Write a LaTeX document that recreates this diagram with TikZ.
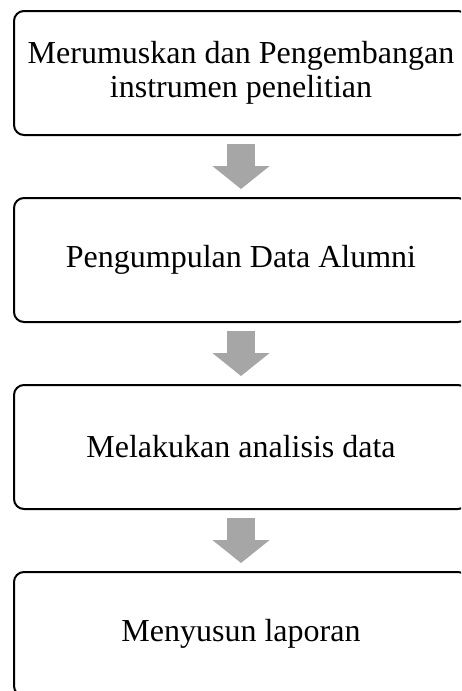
\documentclass[tikz,border=0pt]{standalone}
\usepackage{fontspec}
\setmainfont{Liberation Serif}
\usepackage{tikz}
\usetikzlibrary{arrows.meta,positioning}

\definecolor{arrowgray}{HTML}{A6A6A6}

\begin{document}
\begin{tikzpicture}[x=1pt,y=1pt,node distance=187pt,on grid,
  stepbox/.style={draw,line width=2pt,rounded corners=10pt,
    minimum width=454pt,minimum height=124pt,align=center,
    font=\fontsize{32}{34}\selectfont},
  blockarrow/.style={draw=arrowgray,line width=28pt,
    shorten <=8pt,shorten >=8pt,
    -{Triangle[width=56pt,length=23pt,fill=arrowgray]}}]
  \clip (0,0) rectangle (461,-691);
  \node[stepbox] (s1) at (241,-73) {Merumuskan dan Pengembangan\\instrumen penelitian};
  \node[stepbox] (s2) [below = of s1] {Pengumpulan Data Alumni};
  \node[stepbox] (s3) [below = of s2] {Melakukan analisis data};
  \node[stepbox] (s4) [below = of s3] {Menyusun laporan};
  \draw[blockarrow] (s1.south) -- (s2.north);
  \draw[blockarrow] (s2.south) -- (s3.north);
  \draw[blockarrow] (s3.south) -- (s4.north);
\end{tikzpicture}
\end{document}
